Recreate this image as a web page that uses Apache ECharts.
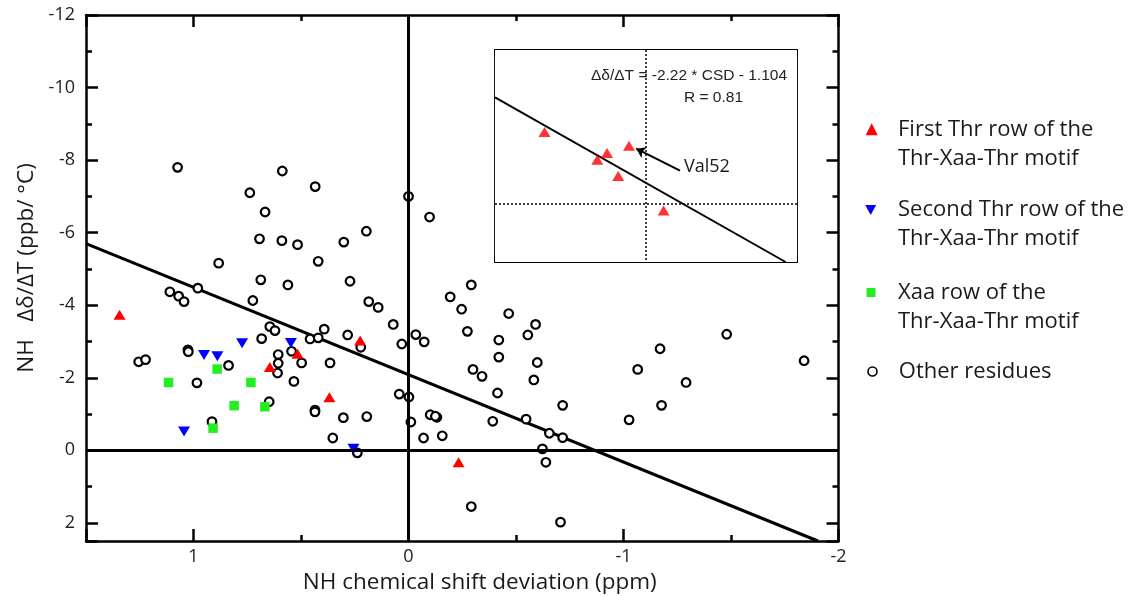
<!DOCTYPE html>
<html><head><meta charset="utf-8">
<script src="https://cdn.jsdelivr.net/npm/echarts@6/dist/echarts.min.js"></script>
<style>html,body{margin:0;padding:0;background:#fff}#c{width:1132px;height:596px}</style>
</head><body><div id="c"></div>
<script>
// ---------- data ----------
const firstThr = [[1.344,-3.74],[0.645,-2.30],[0.516,-2.66],[0.225,-3.03],[0.368,-1.46],[-0.233,0.33]];
const secondThr = [[0.951,-2.63],[0.889,-2.59],[0.774,-2.95],[0.547,-2.96],[1.044,-0.52],[0.256,-0.04]];
const xaaRow = [[1.116,-1.87],[0.890,-2.24],[0.733,-1.87],[0.811,-1.23],[0.668,-1.20],[0.909,-0.61]];
const otherResidues = [
 [1.074,-7.80],[0.587,-7.70],[0.434,-7.27],[0.738,-7.10],[0.667,-6.57],[0.693,-5.83],[0.589,-5.78],
 [0.516,-5.67],[0.420,-5.21],[0.883,-5.16],[0.687,-4.70],[0.561,-4.56],[0.980,-4.47],[1.110,-4.37],
 [1.069,-4.25],[1.044,-4.10],[0.724,-4.13],[0.645,-3.41],[0.621,-3.30],[0.392,-3.34],[0.683,-3.08],
 [0.000,-7.00],[-0.098,-6.43],[0.196,-6.04],[0.301,-5.74],[0.272,-4.66],[-0.292,-4.56],[-0.194,-4.23],
 [0.185,-4.10],[0.141,-3.94],[-0.247,-3.89],[-0.466,-3.77],[0.071,-3.47],[-0.591,-3.47],[0.283,-3.18],
 [-0.274,-3.28],[-0.555,-3.18],[-0.034,-3.19],[-0.073,-2.99],[0.031,-2.93],[-0.420,-3.04],[0.222,-2.84],
 [-0.420,-2.57],[-0.599,-2.42],[-0.300,-2.23],[-0.342,-2.04],[-0.583,-1.94],[0.365,-2.41],[-0.414,-1.58],
 [0.043,-1.55],[-0.002,-1.47],[-0.101,-0.98],[-0.132,-0.91],[-0.125,-0.94],[-0.011,-0.78],[-0.392,-0.80],
 [-0.547,-0.86],[0.194,-0.93],[0.303,-0.90],[0.352,-0.34],[-0.070,-0.34],[-0.157,-0.40],[-0.655,-0.47],
 [-0.623,-0.04],[-0.639,0.33],[0.238,0.07],[-0.292,1.55],[-1.480,-3.20],[-1.170,-2.80],[-1.840,-2.47],
 [-1.066,-2.23],[-1.291,-1.87],[-0.717,-1.24],[-1.177,-1.24],[-1.026,-0.84],[-0.717,-0.35],[-0.707,1.98],
 [1.255,-2.44],[1.223,-2.50],[1.026,-2.77],[1.024,-2.72],[0.984,-1.86],[0.837,-2.34],[0.606,-2.64],
 [0.606,-2.40],[0.609,-2.13],[0.533,-1.90],[0.497,-2.41],[0.544,-2.73],[0.458,-3.07],[0.420,-3.10],
 [0.648,-1.34],[0.914,-0.79],[0.435,-1.11],[0.435,-1.06]
];
const fitLine = [[1.5,-5.70],[-1.904,2.5]];
const insetFit = [[2,-5.544],[-1.849,3]];
const arrowFrom = [-0.45,-1.74];
const arrowTo = [0.13,-2.88];
const seriesNames = ['First Thr row of the\nThr-Xaa-Thr motif','Second Thr row of the\nThr-Xaa-Thr motif','Xaa row of the\nThr-Xaa-Thr motif','Other residues'];
const xName = 'NH chemical shift deviation (ppm)';
const yName = 'NH   Δδ/ΔT (ppb/ °C)';
const equationText = 'Δδ/ΔT = -2.22 * CSD - 1.104';
const rText = 'R = 0.81';
const calloutText = 'Val52';

// ---------- helpers ----------
const BLACK = '#000';
const FONT = '"Open Sans"';
const intFmt = v => (Math.abs(v - Math.round(v)) < 1e-9 ? String(Math.round(v)) : '');
function axis(grid, pos, min, max, interval, tickLen, showLine, lineW, extra) {
  return Object.assign({
    type: 'value', gridIndex: grid, position: pos, min: min, max: max, interval: interval,
    inverse: true,
    axisLine: {show: showLine, onZero: false, lineStyle: {color: BLACK, width: lineW}},
    axisTick: {show: true, inside: true, length: tickLen, lineStyle: {color: BLACK, width: lineW}},
    axisLabel: {show: false},
    splitLine: {show: false}
  }, extra || {});
}
const xLabel = {show: true, formatter: intFmt, fontSize: 18, color: '#222', fontFamily: FONT, margin: 7};
const yLabel = {show: true, formatter: intFmt, fontSize: 18, color: '#222', fontFamily: FONT, margin: 11};

const xAxes = [
  axis(0,'bottom',-2,1.5,1,12,true,2.5,{axisLabel: xLabel, name: xName, nameLocation: 'middle', nameGap: 26,
     nameTextStyle: {fontSize: 22.5, fontFamily: FONT, color: '#1a1a1a', padding: [0,0,0,35]}}),
  axis(0,'bottom',-2,1.5,0.5,6,false,2.5),
  axis(0,'top',-2,1.5,1,12,true,2.5),
  axis(0,'top',-2,1.5,0.5,6,false,2.5),
  axis(1,'bottom',-2,2,1,5,true,1.8),
  axis(1,'bottom',-2,2,0.5,3,false,1.5),
  axis(1,'top',-2,2,1,5,true,1.8),
  axis(1,'top',-2,2,0.5,3,false,1.5)
];
const yAxes = [
  axis(0,'left',-12,2.5,2,12,true,2.5,{axisLabel: yLabel, name: yName, nameLocation: 'middle', nameGap: 46,
     nameTextStyle: {fontSize: 22.5, fontFamily: FONT, color: '#1a1a1a', padding: [0,0,0,20]}}),
  axis(0,'left',-12,2.5,1,6,false,2.5),
  axis(0,'right',-12,2.5,2,12,true,2.5),
  axis(0,'right',-12,2.5,1,6,false,2.5),
  axis(1,'left',-8,3,2,5,true,1.8),
  axis(1,'left',-8,3,1,3,false,1.5),
  axis(1,'right',-8,3,2,5,true,1.8),
  axis(1,'right',-8,3,1,3,false,1.5)
];

const downTri = 'path://M0,0 L10,0 L5,9 Z';
const markers = [
  {symbol: 'triangle', size: [12,10], color: '#ff0000'},
  {symbol: downTri, size: [12,10], color: '#0000ff'},
  {symbol: 'rect', size: 9.5, color: '#22ee22'},
  {symbol: 'circle', size: 8.6, color: '#fff', border: BLACK}
];
const dataSets = [firstThr, secondThr, xaaRow, otherResidues];

const series = [
  {type: 'line', xAxisIndex: 0, yAxisIndex: 0, data: fitLine, symbol: 'none', silent: true,
   lineStyle: {color: BLACK, width: 3}, z: 2,
   markLine: {silent: true, symbol: 'none', label: {show: false}, animation: false,
     lineStyle: {color: BLACK, width: 3, type: 'solid'}, data: [{xAxis: 0}, {yAxis: 0}]}}
];
[3,0,1,2].forEach(i => {
  const m = markers[i];
  series.push({type: 'scatter', name: seriesNames[i], xAxisIndex: 0, yAxisIndex: 0, data: dataSets[i],
    symbol: m.symbol, symbolSize: m.size, z: 3,
    itemStyle: {color: m.color, borderColor: m.border || m.color, borderWidth: m.border ? 2.2 : 0, opacity: 1}});
});
// inset
series.push({type: 'line', xAxisIndex: 4, yAxisIndex: 4, data: insetFit, symbol: 'none', silent: true,
  lineStyle: {color: BLACK, width: 2}, z: 5,
  markLine: {silent: true, symbol: 'none', label: {show: false}, animation: false,
    lineStyle: {color: BLACK, width: 1.5, type: [2,2]}, data: [{xAxis: 0}, {yAxis: 0}]}});
series.push({type: 'scatter', name: seriesNames[0], xAxisIndex: 4, yAxisIndex: 4, data: firstThr,
  symbol: 'triangle', symbolSize: [12,10], z: 6, itemStyle: {color: '#ff0000'},
  markLine: {silent: true, label: {show: false}, animation: false, symbolSize: 9,
    lineStyle: {color: BLACK, width: 2, type: 'solid'},
    data: [[{coord: arrowFrom, symbol: 'none'}, {coord: arrowTo, symbol: 'arrow'}]]}});

function legendFor(i, left, top, size, padL, twoLine) {
  const m = markers[i];
  return {
    show: true, orient: 'vertical', left: left, top: top, padding: 0, itemGap: 0,
    itemWidth: size, itemHeight: size, selectedMode: false,
    formatter: twoLine ? (n => '\n' + n) : (n => n),
    data: [{name: seriesNames[i], icon: m.symbol,
      itemStyle: {color: m.color, borderColor: m.border || m.color, borderWidth: m.border ? 1.6 : 0}}],
    textStyle: {fontSize: 22, fontFamily: FONT, color: '#1a1a1a', lineHeight: 29,
      padding: [0, 0, 0, padL]}
  };
}

const option = {
  backgroundColor: '#fff',
  animation: false,
  grid: [
    {left: 86, top: 15, width: 752.5, height: 526, containLabel: false, outerBoundsMode: 'none'},
    {left: 495, top: 50, width: 302, height: 212, show: true, backgroundColor: '#fff', borderWidth: 0, z: 4,
     containLabel: false, outerBoundsMode: 'none'}
  ],
  xAxis: xAxes,
  yAxis: yAxes,
  legend: [
    legendFor(0, 865.7, 85.8, 12, 15.3, true),
    legendFor(1, 865.2, 166.5, 11, 16.8, true),
    legendFor(2, 866.5, 249, 9, 17.5, true),
    legendFor(3, 867.2, 357, 9, 16.8, false)
  ],
  graphic: [
    {type: 'text', right: 1132 - 787, top: 68, z: 10,
     style: {text: equationText, font: '15.5px "Liberation Sans", Arial, sans-serif', fill: '#222'}},
    {type: 'text', left: 684, top: 90, z: 10,
     style: {text: rText, font: '15.5px "Liberation Sans", Arial, sans-serif', fill: '#222'}},
    {type: 'text', left: 684, top: 158, z: 10,
     style: {text: calloutText, font: '18px "Open Sans"', fill: '#1a1a1a'}}
  ],
  series: series
};
const chart = echarts.init(document.getElementById('c'), null, {renderer: 'canvas'});
chart.setOption(option);
</script></body></html>
